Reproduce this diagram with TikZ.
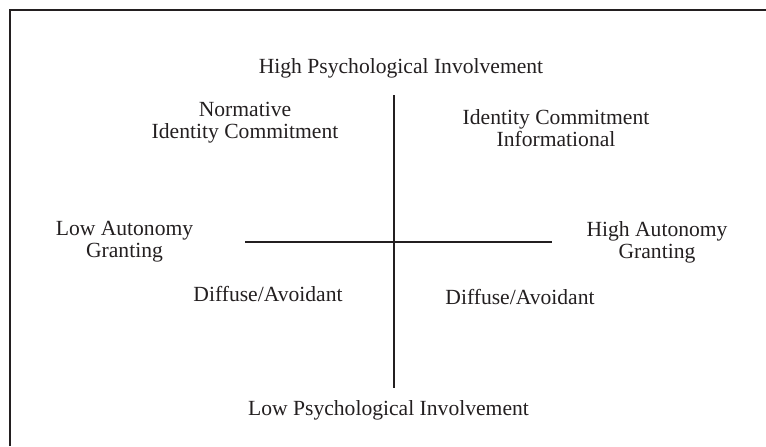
\documentclass[tikz,border=0pt]{standalone}
\usepackage{fontspec}
\setmainfont{Liberation Serif}
\definecolor{ink}{RGB}{35,31,32}
\tikzset{
  lbl/.style={inner sep=0pt, align=center, text=ink,
              font=\fontsize{10.8}{11}\selectfont},
  axis/.style={draw=ink, line width=1pt},
}
\begin{document}
\begin{tikzpicture}[x=0.5pt,y=-0.5pt]

  \useasboundingbox (0,0) rectangle (766,446);

  \begin{scope}   % frame and axes

    \coordinate (F1) at (10,446);
    \coordinate (F2) at (10,10);
    \coordinate (F3) at (766,10);
    \draw[axis] (F1)--(F2)--(F3);

    \def\Ox{393.5};
    \def\Oy{242};
    \coordinate (T) at (\Ox,95);
    \coordinate (B) at (\Ox,388);
    \coordinate (L) at (245,\Oy);
    \coordinate (R) at (552,\Oy);
    \draw[axis] (T)--(B);
    \draw[axis] (L)--(R);

  \end{scope}

  \begin{scope}   % labels

    \node[lbl, anchor=base] (hpi) at (401,73) {High Psychological Involvement};
    \node[lbl, anchor=base] (lpi) at (388.5,415) {Low Psychological Involvement};

    \node[lbl] (norm) at (245,123) {Normative\\Identity Commitment};
    \node[lbl] (info) at (556,128) {Identity Commitment\\Informational};

    \node[lbl] (lag) at (124.5,242) {Low Autonomy\\Granting};
    \node[lbl] (hag) at (657,242) {High Autonomy\\Granting};

    \node[lbl, anchor=base] (dl) at (268,301) {Diffuse/Avoidant};
    \node[lbl, anchor=base] (dr) at (520,304) {Diffuse/Avoidant};

  \end{scope}

\end{tikzpicture}
\end{document}
